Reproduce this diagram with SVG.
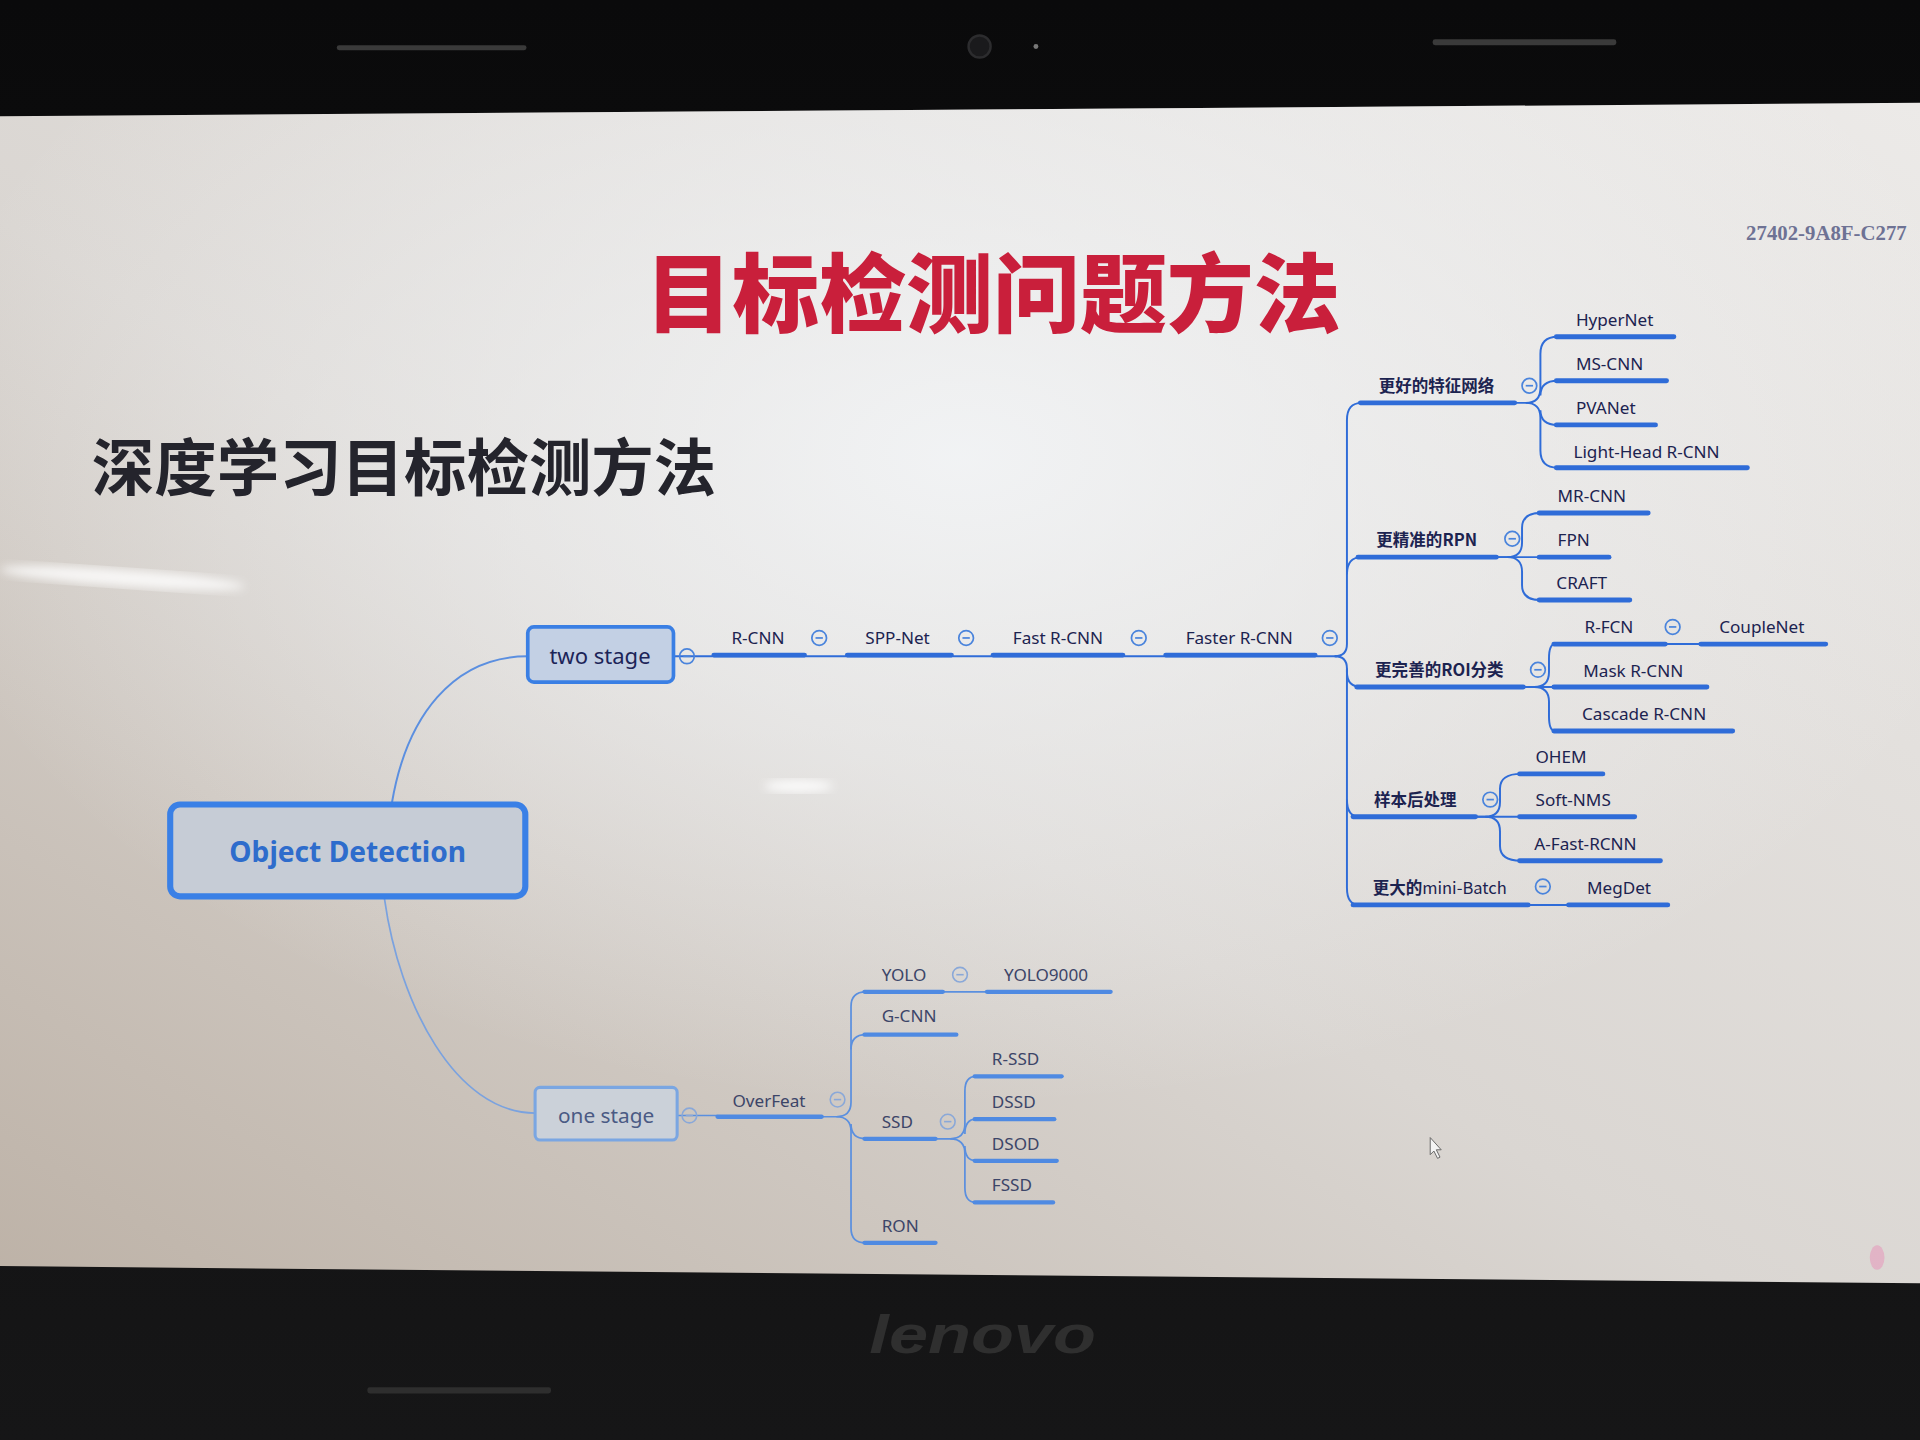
<svg xmlns="http://www.w3.org/2000/svg" width="1920" height="1440" viewBox="0 0 1920 1440">
<defs>
<linearGradient id="scr" x1="0" y1="1" x2="1" y2="0">
<stop offset="0" stop-color="#bdb2a7"/>
<stop offset="0.45" stop-color="#dad6d2"/>
<stop offset="1" stop-color="#eceae8"/>
</linearGradient>
<radialGradient id="glow" cx="0.5" cy="0.3" r="0.55">
<stop offset="0" stop-color="#f3f5f7" stop-opacity="0.9"/>
<stop offset="1" stop-color="#f3f5f7" stop-opacity="0"/>
</radialGradient>
<linearGradient id="bez" x1="0" y1="0" x2="0" y2="1">
<stop offset="0" stop-color="#0a0a0b"/>
<stop offset="1" stop-color="#161617"/>
</linearGradient>
<filter id="blur"><feGaussianBlur stdDeviation="4"/></filter>
<style>
.t{font-family:"Noto Sans","Liberation Sans",sans-serif;font-size:14px;fill:#1c2350}
.o{font-family:"Noto Sans","Liberation Sans",sans-serif;font-size:14px;fill:#3c4568}
.cn{font-family:"Noto Sans CJK SC","Noto Sans",sans-serif;font-size:13.5px;font-weight:bold;fill:#1c2350}
.nb{font-weight:normal}
.ul{stroke:#2f6cd8;stroke-width:4;stroke-linecap:round;fill:none}
.ulo{stroke:#4f8ae2;stroke-width:3.5;stroke-linecap:round;fill:none}
.ln{stroke:#2f6cd8;stroke-width:1.6;fill:none}
.lno{stroke:#5a8fdf;stroke-width:1.4;fill:none}
.tg{fill:none;stroke:#4a84dc;stroke-width:1.4}
.tgo{fill:none;stroke:#8aa8d8;stroke-width:1.3}
</style>
</defs>
<g transform="scale(1.22449)">
<rect x="0" y="0" width="1568" height="1176" fill="url(#bez)"/>
<g id="screen">
<polygon points="0,95 1568,84 1568,1048 0,1034" fill="url(#scr)"/>
<polygon points="0,95 1568,84 1568,1048 0,1034" fill="url(#glow)"/>
<ellipse cx="100" cy="472" rx="100" ry="7" fill="#ffffff" opacity="0.8" filter="url(#blur)" transform="rotate(4 100 472)"/>
<ellipse cx="652" cy="642" rx="28" ry="5" fill="#ffffff" opacity="0.85" filter="url(#blur)"/>
</g>
<g id="bezel-details">
<rect x="275" y="37" width="155" height="4" rx="2" fill="#3a3a3a"/>
<rect x="1170" y="32" width="150" height="5" rx="2" fill="#3a3a3a"/>
<circle cx="800" cy="38" r="9" fill="#1a1a1c" stroke="#2c2c2e" stroke-width="2"/>
<circle cx="846" cy="38" r="2" fill="#777"/>
<rect x="300" y="1133" width="150" height="5" rx="2" fill="#2e2e2e"/>
<text x="710" y="1105" font-family="Liberation Sans,sans-serif" font-size="44" font-weight="bold" font-style="italic" fill="#2f2f2f" textLength="185" lengthAdjust="spacingAndGlyphs">lenovo</text>
</g>
<g id="title">
<text x="527" y="266" font-family="Noto Sans CJK SC,sans-serif" font-size="71" font-weight="900" fill="#c91f3b">目标检测问题方法</text>
</g>
<g id="subtitle">
<text x="75" y="401" font-family="Noto Sans CJK SC,sans-serif" font-size="51" font-weight="bold" fill="#24242c">深度学习目标检测方法</text>
</g>
<g id="watermark">
<text x="1426" y="196" font-family="Liberation Serif,serif" font-size="17" font-weight="bold" fill="#6e7294">27402-9A8F-C277</text>
</g>

<g id="connectors">
<path d="M320,656 C332,585 370,536 431,536" stroke="#5b8fe0" stroke-width="1.6" fill="none"/>
<path d="M314,734 C326,820 372,909 437,909" stroke="#7aa2df" stroke-width="1.4" fill="none"/>
<path class="ln" d="M550,536 H1092"/>
<!-- faster trunk -->
<path class="ln" d="M1090,536 Q1100,536 1100,526 V343 Q1100,329 1112,329"/>
<path class="ln" d="M1100,469 Q1100,455 1112,455"/>
<path class="ln" d="M1090,536 Q1100,536 1100,546 V549 Q1100,561 1112,561"/>
<path class="ln" d="M1100,546 V725 Q1100,739 1110,739"/>
<path class="ln" d="M1100,653 Q1100,667 1110,667"/>
<!-- 更好的特征网络 -->
<path class="ln" d="M1237,329 H1246 Q1258,329 1258,317 V289 Q1258,275 1272,275"/>
<path class="ln" d="M1258,323 Q1258,311 1272,311"/>
<path class="ln" d="M1246,329 Q1258,329 1258,341 V368 Q1258,382 1272,382"/>
<path class="ln" d="M1258,335 Q1258,347 1272,347"/>
<!-- 更精准的RPN -->
<path class="ln" d="M1222,455 H1231 Q1243,455 1243,443 V431 Q1243,419 1258,419"/>
<path class="ln" d="M1222,455 H1258"/>
<path class="ln" d="M1231,455 Q1243,455 1243,467 V478 Q1243,490 1258,490"/>
<!-- ROI -->
<path class="ln" d="M1244,561 H1253 Q1265,561 1265,549 V538 Q1265,526 1270,526"/>
<path class="ln" d="M1244,561 H1270"/>
<path class="ln" d="M1253,561 Q1265,561 1265,573 V585 Q1265,597 1270,597"/>
<path class="ln" d="M1360,526 H1390"/>
<!-- 样本后处理 -->
<path class="ln" d="M1205,667 H1213 Q1225,667 1225,655 V644 Q1225,632 1242,632"/>
<path class="ln" d="M1205,667 H1242"/>
<path class="ln" d="M1213,667 Q1225,667 1225,679 V691 Q1225,703 1242,703"/>
<path class="ln" d="M1248,739 H1282"/>
<!-- one stage -->
<path class="lno" d="M553,911 H586"/>
<path class="lno" d="M672,912 H683 Q695,912 695,900 V822 Q695,810 707,810"/>
<path class="lno" d="M695,857 Q695,845 707,845"/>
<path class="lno" d="M683,912 Q695,912 695,924 V1003 Q695,1015 707,1015"/>
<path class="lno" d="M695,918 Q695,930 707,930"/>
<path class="lno" d="M771,810 H806"/>
<path class="lno" d="M765,930 H776 Q788,930 788,918 V891 Q788,879 797,879"/>
<path class="lno" d="M788,926 Q788,914 797,914"/>
<path class="lno" d="M776,930 Q788,930 788,942 V970 Q788,982 797,982"/>
<path class="lno" d="M788,936 Q788,948 797,948"/>
</g>

<g id="object-detection">
<rect x="139" y="657" width="290" height="75" rx="8" fill="#c6ccd6" stroke="#3a80e6" stroke-width="5"/>
<text x="284" y="704" text-anchor="middle" font-family="Noto Sans,Liberation Sans,sans-serif" font-size="23" font-weight="bold" fill="#2e6ccc">Object Detection</text>
</g>
<g id="two-stage">
<rect x="431" y="512" width="119" height="45" rx="5" fill="#c3d0e4" stroke="#3a7fe4" stroke-width="3"/>
<text x="490" y="542" text-anchor="middle" font-family="Noto Sans,Liberation Sans,sans-serif" font-size="18" fill="#1c2458">two stage</text>
<circle class="tg" cx="561" cy="536" r="6"/><path class="tg" d="M558,536h6"/>
</g>
<g id="one-stage">
<rect x="437" y="888" width="116" height="43" rx="4" fill="#cbd1d9" stroke="#7aa6e2" stroke-width="2.5"/>
<text x="495" y="917" text-anchor="middle" font-family="Noto Sans,Liberation Sans,sans-serif" font-size="17" fill="#4a5a84">one stage</text>
<circle class="tgo" cx="563" cy="911" r="6"/><path class="tgo" d="M560,911h6"/>
</g>

<g id="r-cnn"><text class="t" x="619" y="526" text-anchor="middle">R-CNN</text><path class="ul" d="M583,535H657"/><circle class="tg" cx="669" cy="521" r="6"/><path class="tg" d="M666,521h6"/></g>
<g id="spp-net"><text class="t" x="733" y="526" text-anchor="middle">SPP-Net</text><path class="ul" d="M692,535H777"/><circle class="tg" cx="789" cy="521" r="6"/><path class="tg" d="M786,521h6"/></g>
<g id="fast-r-cnn"><text class="t" x="864" y="526" text-anchor="middle">Fast R-CNN</text><path class="ul" d="M811,535H917"/><circle class="tg" cx="930" cy="521" r="6"/><path class="tg" d="M927,521h6"/></g>
<g id="faster-r-cnn"><text class="t" x="1012" y="526" text-anchor="middle">Faster R-CNN</text><path class="ul" d="M952,535H1074"/><circle class="tg" cx="1086" cy="521" r="6"/><path class="tg" d="M1083,521h6"/></g>

<g id="better-feature"><text class="cn" x="1126" y="320">更好的特征网络</text><path class="ul" d="M1111,329H1237"/><circle class="tg" cx="1249" cy="315" r="6"/><path class="tg" d="M1246,315h6"/></g>
<g id="hypernet"><text class="t" x="1287" y="266">HyperNet</text><path class="ul" d="M1271,275H1367"/></g>
<g id="ms-cnn"><text class="t" x="1287" y="302">MS-CNN</text><path class="ul" d="M1271,311H1361"/></g>
<g id="pvanet"><text class="t" x="1287" y="338">PVANet</text><path class="ul" d="M1271,347H1352"/></g>
<g id="light-head"><text class="t" x="1285" y="374">Light-Head R-CNN</text><path class="ul" d="M1271,382H1427"/></g>

<g id="better-rpn"><text class="cn" x="1124" y="446">更精准的RPN</text><path class="ul" d="M1109,455H1222"/><circle class="tg" cx="1235" cy="440" r="6"/><path class="tg" d="M1232,440h6"/></g>
<g id="mr-cnn"><text class="t" x="1272" y="410">MR-CNN</text><path class="ul" d="M1257,419H1346"/></g>
<g id="fpn"><text class="t" x="1272" y="446">FPN</text><path class="ul" d="M1257,455H1314"/></g>
<g id="craft"><text class="t" x="1271" y="481">CRAFT</text><path class="ul" d="M1257,490H1331"/></g>

<g id="better-roi"><text class="cn" x="1123" y="552">更完善的ROI分类</text><path class="ul" d="M1108,561H1244"/><circle class="tg" cx="1256" cy="547" r="6"/><path class="tg" d="M1253,547h6"/></g>
<g id="r-fcn"><text class="t" x="1294" y="517">R-FCN</text><path class="ul" d="M1269,526H1360"/><circle class="tg" cx="1366" cy="512" r="6"/><path class="tg" d="M1363,512h6"/></g>
<g id="couplenet"><text class="t" x="1404" y="517">CoupleNet</text><path class="ul" d="M1389,526H1491"/></g>
<g id="mask-r-cnn"><text class="t" x="1293" y="553">Mask R-CNN</text><path class="ul" d="M1269,561H1394"/></g>
<g id="cascade-r-cnn"><text class="t" x="1292" y="588">Cascade R-CNN</text><path class="ul" d="M1269,597H1415"/></g>

<g id="post-process"><text class="cn" x="1122" y="658">样本后处理</text><path class="ul" d="M1105,667H1205"/><circle class="tg" cx="1217" cy="653" r="6"/><path class="tg" d="M1214,653h6"/></g>
<g id="ohem"><text class="t" x="1254" y="623">OHEM</text><path class="ul" d="M1241,632H1309"/></g>
<g id="soft-nms"><text class="t" x="1254" y="658">Soft-NMS</text><path class="ul" d="M1241,667H1335"/></g>
<g id="a-fast-rcnn"><text class="t" x="1253" y="694">A-Fast-RCNN</text><path class="ul" d="M1241,703H1356"/></g>

<g id="mini-batch"><text class="cn" x="1121" y="730">更大的<tspan class="nb">mini-Batch</tspan></text><path class="ul" d="M1105,739H1248"/><circle class="tg" cx="1260" cy="724" r="6"/><path class="tg" d="M1257,724h6"/></g>
<g id="megdet"><text class="t" x="1296" y="730">MegDet</text><path class="ul" d="M1281,739H1362"/></g>

<g id="overfeat"><text class="o" x="628" y="904" text-anchor="middle">OverFeat</text><path class="ulo" d="M586,912H671"/><circle class="tgo" cx="684" cy="898" r="6"/><path class="tgo" d="M681,898h6"/></g>
<g id="yolo"><text class="o" x="720" y="801">YOLO</text><path class="ulo" d="M706,810H770"/><circle class="tgo" cx="784" cy="796" r="6"/><path class="tgo" d="M781,796h6"/></g>
<g id="yolo9000"><text class="o" x="820" y="801">YOLO9000</text><path class="ulo" d="M806,810H907"/></g>
<g id="g-cnn"><text class="o" x="720" y="835">G-CNN</text><path class="ulo" d="M706,845H781"/></g>
<g id="ssd"><text class="o" x="720" y="921">SSD</text><path class="ulo" d="M706,930H764"/><circle class="tgo" cx="774" cy="916" r="6"/><path class="tgo" d="M771,916h6"/></g>
<g id="r-ssd"><text class="o" x="810" y="870">R-SSD</text><path class="ulo" d="M796,879H867"/></g>
<g id="dssd"><text class="o" x="810" y="905">DSSD</text><path class="ulo" d="M796,914H861"/></g>
<g id="dsod"><text class="o" x="810" y="939">DSOD</text><path class="ulo" d="M796,948H863"/></g>
<g id="fssd"><text class="o" x="810" y="973">FSSD</text><path class="ulo" d="M796,982H860"/></g>
<g id="ron"><text class="o" x="720" y="1006">RON</text><path class="ulo" d="M706,1015H764"/></g>

<g id="cursor"><path d="M1168,929 L1168,943 L1171,940 L1174,946 L1176,945 L1173,939 L1177,939 Z" fill="#f4f4f4" stroke="#666" stroke-width="0.8"/></g>
<ellipse cx="1533" cy="1027" rx="6" ry="10" fill="#e890b8" opacity="0.5"/>
</g>
</svg>
